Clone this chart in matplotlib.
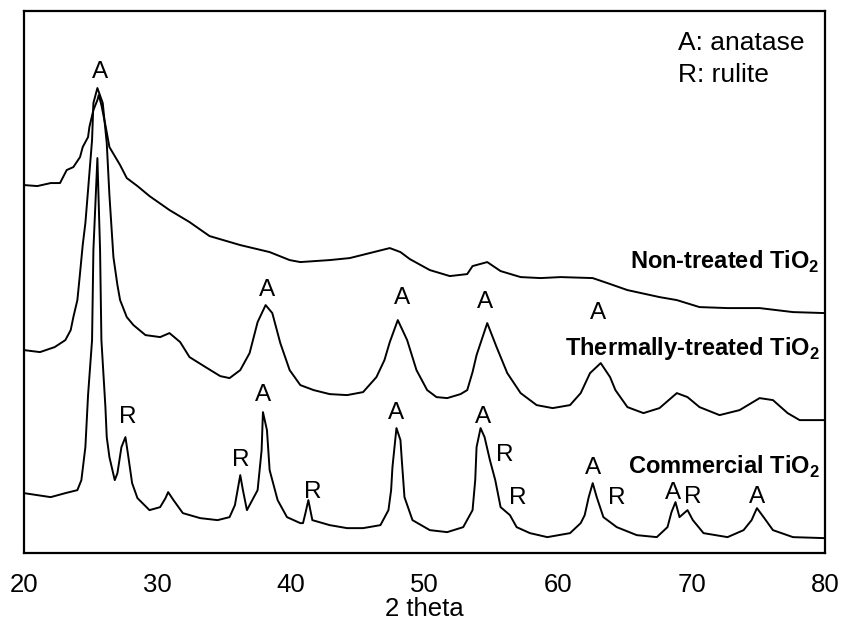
import matplotlib
matplotlib.use('Agg')
import matplotlib.pyplot as plt

plt.rcParams['font.family'] = ['Liberation Sans', 'DejaVu Sans']
plt.rcParams['mathtext.fontset'] = 'custom'
plt.rcParams['mathtext.rm'] = 'Liberation Sans'
plt.rcParams['mathtext.bf'] = 'Liberation Sans:bold'

# === Data (2 theta, intensity in arbitrary units) ============================
non_x = [20.0, 21.0, 22.0, 22.7, 23.2, 23.7, 24.2, 24.4, 24.8, 24.9, 25.2, 25.5,
         25.6, 25.8, 26.1, 26.4, 27.2, 27.7, 28.5, 29.4, 30.9, 32.4, 33.9, 36.2,
         38.4, 39.9, 40.7, 42.9, 44.4, 45.9, 47.4, 48.2, 48.9, 50.4, 51.9, 53.2,
         53.6, 54.7, 55.7, 57.2, 58.7, 60.2, 62.6, 63.7, 65.2, 67.6, 68.9, 70.6,
         72.7, 75.1, 77.6, 80.0]
non_y = [368, 367, 370, 370, 383, 386, 396, 406, 416, 426, 443, 453,
         458, 448, 428, 406, 388, 375, 367, 357, 343, 331, 317, 308,
         301, 293, 291, 293, 295, 300, 305, 301, 294, 283, 277, 279,
         287, 291, 282, 276, 275, 276, 275, 270, 263, 256, 253, 246,
         245, 245, 241, 240]

therm_x = [20.0, 21.2, 22.3, 23.1, 23.5, 23.7, 24.0, 24.2, 24.4, 24.6, 24.8, 25.1,
           25.2, 25.5, 25.9, 26.2, 26.4, 26.7, 27.0, 27.2, 27.7, 28.2, 29.1, 30.2,
           30.9, 31.7, 32.4, 33.6, 34.7, 35.4, 36.2, 36.9, 37.5, 38.1, 38.6, 39.2,
           39.9, 40.7, 41.7, 42.9, 44.2, 45.4, 46.4, 47.0, 47.4, 48.0, 48.7, 49.4,
           50.2, 50.9, 51.7, 52.7, 53.2, 53.6, 53.9, 54.7, 55.4, 56.2, 57.2, 58.4,
           59.6, 60.9, 61.7, 62.4, 63.2, 63.9, 64.3, 65.2, 66.4, 67.6, 68.9, 69.7,
           70.6, 72.1, 73.6, 75.1, 76.1, 77.2, 78.1, 80.0]
therm_y = [203, 201, 206, 213, 223, 236, 253, 280, 308, 330, 363, 413,
           450, 465, 450, 410, 358, 296, 268, 253, 236, 228, 218, 216,
           220, 211, 196, 186, 177, 175, 183, 200, 231, 248, 240, 210,
           183, 168, 163, 159, 158, 161, 176, 193, 211, 233, 213, 183,
           163, 156, 155, 159, 163, 181, 198, 230, 206, 180, 160, 148,
           145, 148, 160, 180, 190, 176, 163, 146, 140, 145, 160, 156,
           146, 138, 143, 155, 153, 140, 133, 133]

com_x = [20.0, 22.0, 23.1, 24.0, 24.3, 24.6, 24.8, 25.1, 25.2, 25.5, 25.7, 25.8,
         26.1, 26.2, 26.4, 26.8, 27.0, 27.3, 27.6, 27.8, 28.1, 28.5, 29.4, 30.2,
         30.6, 30.8, 31.2, 31.9, 33.2, 34.5, 35.4, 35.8, 36.2, 36.4, 36.7, 37.1,
         37.5, 37.8, 37.9, 38.2, 38.4, 39.0, 39.7, 40.7, 40.9, 41.1, 41.3, 41.6,
         42.9, 44.2, 45.4, 46.7, 47.3, 47.5, 47.6, 47.9, 48.2, 48.3, 48.5, 49.1,
         50.4, 51.7, 52.9, 53.6, 53.8, 53.9, 54.2, 54.5, 54.9, 55.3, 55.7, 56.4,
         56.9, 57.9, 59.2, 60.9, 61.7, 62.0, 62.3, 62.6, 62.9, 63.4, 64.4, 65.9,
         67.4, 68.2, 68.5, 68.8, 69.1, 69.7, 70.1, 70.9, 72.7, 73.9, 74.5, 74.9,
         75.4, 76.1, 77.6, 80.0]
com_y = [60, 56, 60, 63, 73, 106, 158, 213, 303, 395, 303, 213,
         146, 116, 96, 73, 80, 106, 116, 98, 70, 55, 43, 46,
         55, 61, 53, 40, 35, 33, 36, 48, 78, 63, 43, 53,
         63, 103, 141, 123, 83, 53, 36, 30, 30, 41, 53, 33,
         28, 25, 25, 28, 43, 63, 86, 125, 113, 93, 56, 33,
         23, 21, 26, 43, 73, 106, 125, 116, 93, 73, 46, 38,
         26, 20, 16, 20, 30, 38, 56, 70, 56, 36, 26, 18,
         16, 26, 41, 51, 36, 43, 33, 20, 16, 23, 33, 45,
         36, 23, 16, 15]

# Phase labels above the peaks: (2 theta, height, letter)
peak_x = [25.7, 38.2, 48.3, 54.5, 63.0,
          27.8, 36.2, 37.9, 41.6, 47.9, 54.4, 56.0, 57.0, 62.6, 64.4, 68.6, 70.1, 74.9]
peak_y = [481, 263, 255, 251, 240,
          136, 93, 158, 61, 140, 136, 98, 55, 85, 55, 60, 56, 56]
peak_txt = ['A', 'A', 'A', 'A', 'A',
            'R', 'R', 'A', 'R', 'A', 'A', 'R', 'R', 'A', 'R', 'A', 'R', 'A']

# Sample names
names = [r'Non-treated TiO$_\mathbf{2}$', r'Thermally-treated TiO$_\mathbf{2}$',
         r'Commercial TiO$_\mathbf{2}$']
names_y = [291, 205, 86]

# =============================================================================
fig = plt.figure(figsize=(8.41, 6.30), dpi=100)
ax = fig.add_axes([0.0285, 0.122, 0.9525, 0.8605])

for xs, ys in [(non_x, non_y), (therm_x, therm_y), (com_x, com_y)]:
    ax.plot(xs, ys, c='k', lw=1.4)

for px, py, t in zip(peak_x, peak_y, peak_txt):
    ax.text(px, py, t, ha='center', va='center', fontsize=17.5)

for nm, ny in zip(names, names_y):
    ax.text(79.6, ny, nm, ha='right', va='center', fontsize=17, fontweight='bold')

ax.text(69.0, 510, 'A: anatase', ha='left', va='center', fontsize=19)
ax.text(69.0, 478, 'R: rulite', ha='left', va='center', fontsize=19)

# Figure cosmetics
ax.set_xlim(20, 80)
ax.set_ylim(0, 542)
ax.set_xticks(range(20, 81, 10))
ax.set_yticks([])
ax.tick_params(axis='x', length=0, pad=14, labelsize=18.5)
ax.set_xlabel('2 theta', fontsize=18.5, labelpad=0)
for sp in ax.spines.values():
    sp.set_linewidth(1.6)

plt.savefig('out.png', dpi=100)
plt.close()
